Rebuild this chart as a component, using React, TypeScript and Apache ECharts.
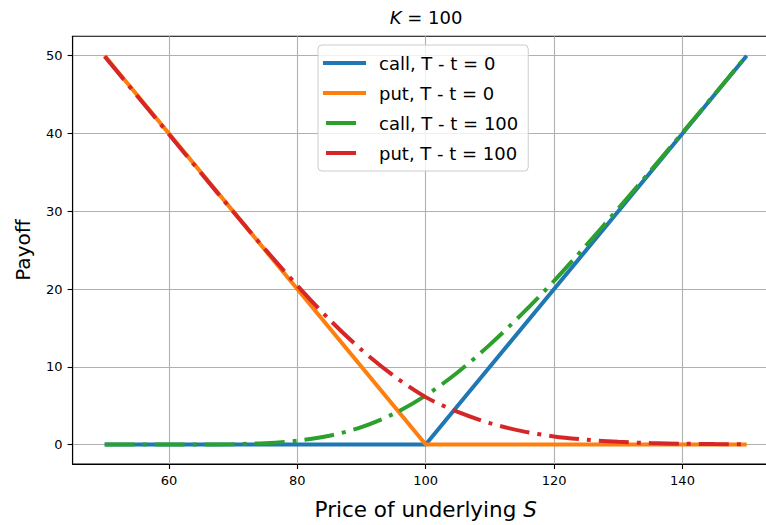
import React, { useEffect, useRef } from "react";
import * as echarts from "echarts";

const S = [50, 55, 60, 65, 70, 75, 80, 85, 90, 95, 100, 105, 110, 115, 120, 125, 130, 135, 140, 145, 150];
const CALL_100 = [0, 0, 0.002, 0.01, 0.05, 0.18, 0.5, 1.13, 2.25, 3.95, 6.3, 9.3, 12.85, 16.8, 21.05, 25.62, 30.35, 35.19, 40.11, 45.06, 50.03];
const PUT_100 = [49.9, 44.9, 39.9, 34.91, 29.96, 25.1, 20.45, 16.08, 12.18, 8.85, 6.1, 4.2, 2.75, 1.73, 1.04, 0.62, 0.35, 0.19, 0.11, 0.06, 0.03];
const PAYOFF_X = [50, 100, 150];
const CALL_0 = [0, 0, 50];
const PUT_0 = [50, 0, 0];
const X_TICKS = [60, 80, 100, 120, 140];
const Y_TICKS = [0, 10, 20, 30, 40, 50];
const NAMES = ["call, T - t = 0", "put, T - t = 0", "call, T - t = 100", "put, T - t = 100"];
const COLORS = ["#1f77b4", "#ff7f0e", "#2ca02c", "#d62728"];

const FONT = "DejaVu Sans";
const SOLID_ICON = "path://M0 0h43v4h-43z";
const DASH_ICON = "path://M0 2L0 2M3 0h30v4h-30zM43 2L43 2";

export default function App() {
  const ref = useRef<HTMLDivElement>(null);
  useEffect(() => {
    document.body.style.margin = "0";
    const chart = echarts.init(ref.current!, null, { renderer: "svg" });
    const pair = (xs: number[], ys: number[]) => xs.map((x, i) => [x, ys[i]]);
    const dash = [30, 8, 4, 8];
    chart.setOption({
      animation: false,
      textStyle: { fontFamily: FONT },
      grid: {
        left: 72.6,
        top: 36.3,
        width: 706.2,
        height: 429.3,
        show: true,
        borderColor: "#000",
        borderWidth: 1.1,
        backgroundColor: "transparent",
      },
      graphic: [
        {
          type: "text",
          x: 426,
          y: 17,
          style: {
            text: "{i|K} = 100",
            textAlign: "center",
            textVerticalAlign: "middle",
            fontFamily: FONT,
            fontSize: 18,
            fill: "#000",
            rich: { i: { fontStyle: "italic", fontSize: 18, fontFamily: FONT, fill: "#000" } },
          },
        },
      ],
      legend: {
        orient: "vertical",
        left: 318,
        top: 45,
        data: [
          { name: NAMES[0], icon: SOLID_ICON },
          { name: NAMES[1], icon: SOLID_ICON },
          { name: NAMES[2], icon: DASH_ICON },
          { name: NAMES[3], icon: DASH_ICON },
        ],
        backgroundColor: "rgba(255,255,255,0.8)",
        borderColor: "#cccccc",
        borderWidth: 1,
        borderRadius: 4,
        padding: [8, 10, 8, 5],
        itemWidth: 43,
        itemHeight: 4,
        itemGap: 10,
        textStyle: { fontFamily: FONT, fontSize: 18, color: "#000", lineHeight: 20, padding: [0, 0, 0, 8] },
      },
      xAxis: {
        type: "value",
        min: 45,
        max: 155,
        name: "Price of underlying {i|S}",
        nameLocation: "middle",
        nameGap: 34,
        nameTextStyle: {
          fontFamily: FONT,
          fontSize: 21.5,
          color: "#000",
          rich: { i: { fontStyle: "italic", fontSize: 21.5, fontFamily: FONT, color: "#000" } },
        },
        axisLine: { onZero: false, lineStyle: { color: "#000", width: 1.1 } },
        axisTick: { show: true, length: 5, customValues: X_TICKS, lineStyle: { color: "#000", width: 1.1 } },
        axisLabel: { customValues: X_TICKS, fontFamily: FONT, fontSize: 13, color: "#000", margin: 10 },
        splitLine: { show: true, lineStyle: { color: "#b0b0b0", width: 1.1 } },
      },
      yAxis: {
        type: "value",
        min: -2.5,
        max: 52.5,
        name: "Payoff",
        nameLocation: "middle",
        nameGap: 40,
        nameTextStyle: { fontFamily: FONT, fontSize: 20, color: "#000" },
        axisLine: { onZero: false, lineStyle: { color: "#000", width: 1.1 } },
        axisTick: { show: true, length: 5, customValues: Y_TICKS, lineStyle: { color: "#000", width: 1.1 } },
        axisLabel: { customValues: Y_TICKS, fontFamily: FONT, fontSize: 13, color: "#000", margin: 10 },
        splitLine: { show: true, lineStyle: { color: "#b0b0b0", width: 1.1 } },
      },
      series: [
        {
          name: NAMES[0],
          type: "line",
          data: pair(PAYOFF_X, CALL_0),
          symbol: "none",
          lineStyle: { color: COLORS[0], width: 4 },
          itemStyle: { color: COLORS[0] },
          z: 2,
        },
        {
          name: NAMES[1],
          type: "line",
          data: pair(PAYOFF_X, PUT_0),
          symbol: "none",
          lineStyle: { color: COLORS[1], width: 4 },
          itemStyle: { color: COLORS[1] },
          z: 3,
        },
        {
          name: NAMES[2],
          type: "line",
          data: pair(S, CALL_100),
          symbol: "none",
          smooth: 0.3,
          lineStyle: { color: COLORS[2], width: 4, type: dash },
          itemStyle: { color: COLORS[2] },
          z: 4,
        },
        {
          name: NAMES[3],
          type: "line",
          data: pair(S, PUT_100),
          symbol: "none",
          smooth: 0.3,
          lineStyle: { color: COLORS[3], width: 4, type: dash },
          itemStyle: { color: COLORS[3] },
          z: 5,
        },
      ],
    });
    return () => chart.dispose();
  }, []);
  return (
    <div style={{ width: 766, height: 525, overflow: "hidden", position: "relative" }}>
      <div ref={ref} style={{ width: 781, height: 525 }} />
    </div>
  );
}
